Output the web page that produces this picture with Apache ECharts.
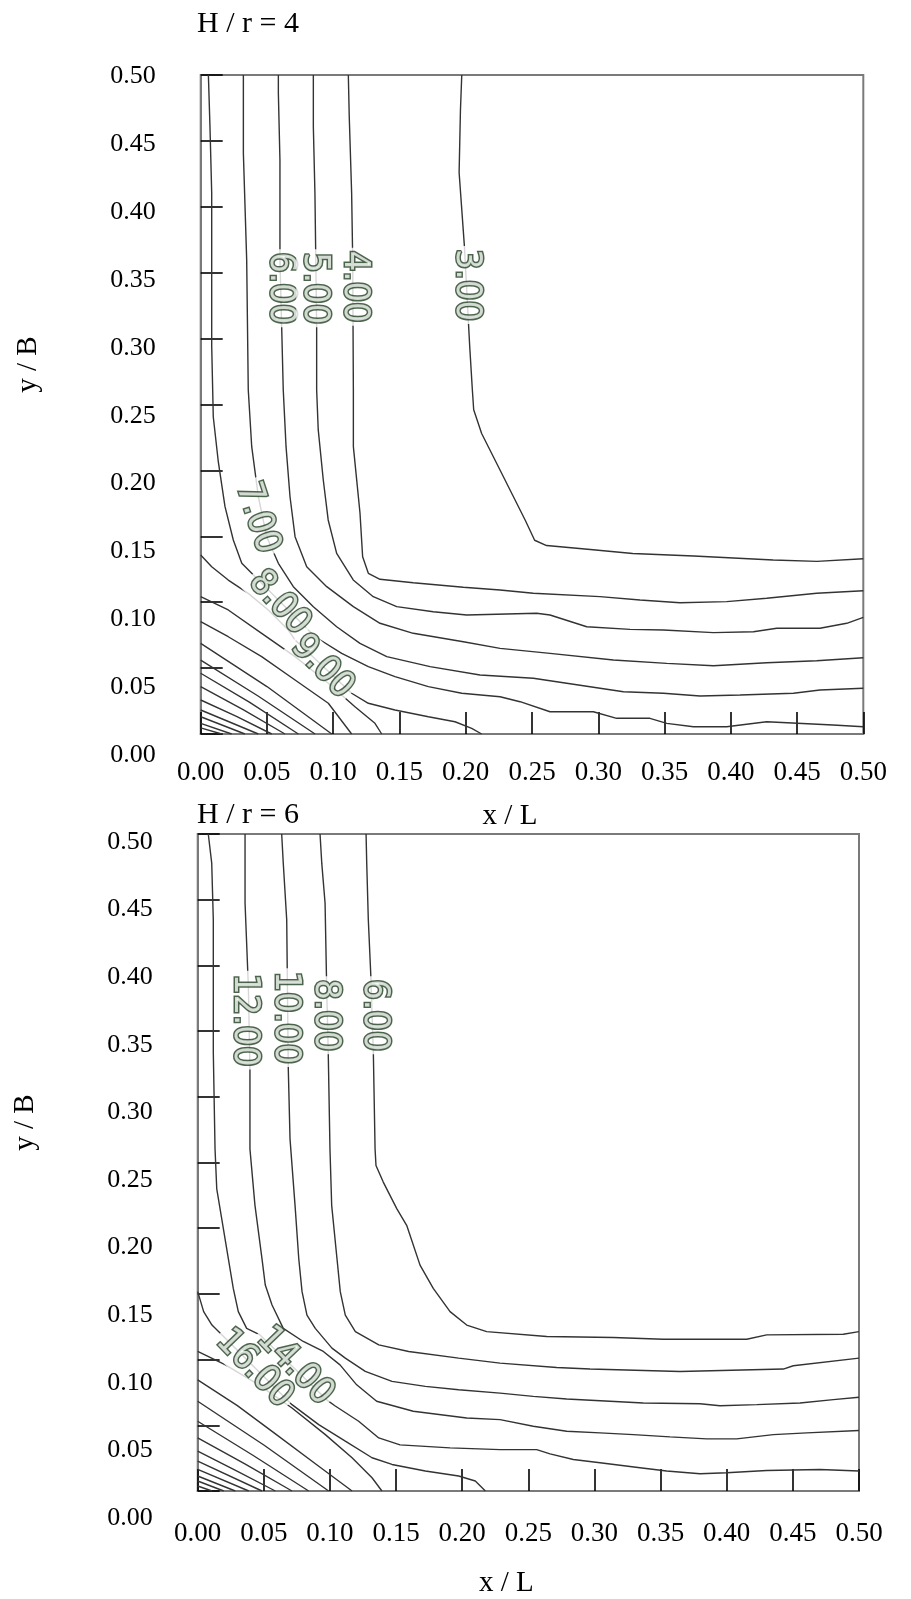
<!DOCTYPE html>
<html>
<head>
<meta charset="utf-8">
<script src="https://cdn.jsdelivr.net/npm/echarts@6/dist/echarts.min.js"></script>
<style>
html,body{margin:0;padding:0;background:#fff;}
#chart{width:911px;height:1599px;}
</style>
</head>
<body>
<div id="chart"></div>
<script>
// ---------- tick labels ----------
const xTickLabels = ['0.00','0.05','0.10','0.15','0.20','0.25','0.30','0.35','0.40','0.45','0.50'];
const yTickLabels = ['0.00','0.05','0.10','0.15','0.20','0.25','0.30','0.35','0.40','0.45','0.50'];

// ---------- H/r = 4 contour lines : [x/L, y/B] ----------
const h4_c3 = [[0.197,0.500],[0.196,0.473],[0.195,0.426],[0.199,0.370],[0.203,0.294],[0.205,0.261],[0.206,0.246],[0.212,0.228],[0.227,0.198],[0.236,0.180],[0.245,0.162],[0.252,0.147],[0.261,0.143],[0.294,0.140],[0.326,0.137],[0.372,0.135],[0.432,0.132],[0.465,0.131],[0.500,0.133]];
const h4_c4 = [[0.1114,0.5],[0.1121,0.4684],[0.1139,0.4105],[0.1147,0.3596],[0.1152,0.2610],[0.1152,0.2180],[0.1202,0.1677],[0.1222,0.1345],[0.1265,0.1219],[0.1353,0.1174],[0.1604,0.1148],[0.1982,0.1113],[0.2259,0.1093],[0.2510,0.1068],[0.3013,0.1042],[0.3315,0.1017],[0.3617,0.0996],[0.3969,0.1004],[0.4271,0.1030],[0.4648,0.1068],[0.5,0.1087]];
const h4_c5 = [[0.085,0.5],[0.085,0.4608],[0.0862,0.4105],[0.0875,0.3090],[0.0875,0.2610],[0.0887,0.2307],[0.0925,0.1927],[0.0962,0.1624],[0.1026,0.1371],[0.1151,0.1169],[0.1302,0.1042],[0.1479,0.0966],[0.1755,0.0928],[0.2007,0.0903],[0.2535,0.0916],[0.2636,0.0903],[0.2913,0.0814],[0.3240,0.0794],[0.3492,0.0789],[0.3869,0.0769],[0.4171,0.0776],[0.4347,0.0802],[0.4673,0.0802],[0.4875,0.0840],[0.5,0.0885]];
const h4_c6 = [[0.0586,0.5],[0.0586,0.4863],[0.0598,0.4355],[0.0598,0.3596],[0.0611,0.3090],[0.0623,0.2610],[0.0644,0.2180],[0.0674,0.1800],[0.0712,0.1497],[0.0800,0.1269],[0.0951,0.1118],[0.1152,0.0966],[0.1353,0.0840],[0.1604,0.0764],[0.1982,0.0700],[0.2259,0.0650],[0.2636,0.0612],[0.3114,0.0561],[0.3517,0.0536],[0.3869,0.0518],[0.4271,0.0541],[0.4648,0.0556],[0.5,0.0579]];
const h4_c7 = [[0.0322,0.5],[0.0322,0.4406],[0.0347,0.3596],[0.0359,0.2610],[0.0385,0.2180],[0.0435,0.1800],[0.0498,0.1497],[0.0586,0.1295],[0.0699,0.1118],[0.0850,0.0966],[0.1026,0.0814],[0.1202,0.0688],[0.1404,0.0587],[0.1731,0.0511],[0.2108,0.0448],[0.2510,0.0423],[0.2762,0.0385],[0.3190,0.0321],[0.3492,0.0309],[0.3768,0.0288],[0.4070,0.0296],[0.4473,0.0309],[0.4673,0.0334],[0.5,0.0347]];
const h4_c8 = [[0.0058,0.5],[0.0070,0.4608],[0.0083,0.4105],[0.0083,0.3596],[0.0083,0.2946],[0.0095,0.2405],[0.0133,0.2064],[0.0183,0.1727],[0.0246,0.1472],[0.0310,0.1295],[0.0385,0.1219],[0.0812,0.0789],[0.0863,0.0738],[0.1064,0.0612],[0.1265,0.0511],[0.1466,0.0435],[0.1718,0.0359],[0.1970,0.0309],[0.2259,0.0283],[0.2410,0.0245],[0.2636,0.0169],[0.2963,0.0169],[0.3139,0.0119],[0.3390,0.0119],[0.3517,0.0081],[0.3718,0.0055],[0.3969,0.0055],[0.4271,0.0093],[0.4771,0.0068],[0.5,0.0055]];
const h4_c9 = [[0,0.1358],[0.0083,0.1269],[0.0208,0.1168],[0.0359,0.1067],[0.0510,0.0941],[0.0661,0.0789],[0.0712,0.0713],[0.1139,0.0309],[0.1265,0.0233],[0.1466,0.0182],[0.1718,0.0131],[0.1919,0.0093],[0.2045,0.0043],[0.2120,0]];
const h4_c10 = [[0,0.1042],[0.0208,0.0941],[0.0460,0.0764],[0.0712,0.0587],[0.0963,0.0385],[0.1164,0.0207],[0.1315,0.0081],[0.1366,0]];
const h4_c11 = [[0,0.0852],[0.0208,0.0738],[0.0460,0.0587],[0.0712,0.0410],[0.0963,0.0233],[0.1139,0]];
const h4_c12 = [[0,0.0688],[0.050,0.036],[0.0989,0]];
const h4_c13 = [[0,0.0561],[0.043,0.029],[0.0863,0]];
const h4_c14 = [[0,0.0461],[0.037,0.024],[0.0737,0]];
const h4_c15 = [[0,0.0359],[0.032,0.0185],[0.0636,0]];
const h4_c16 = [[0,0.0258],[0.027,0.0133],[0.0536,0]];
const h4_c17 = [[0,0.0182],[0.0435,0]];
const h4_c18 = [[0,0.0131],[0.0334,0]];
const h4_c19 = [[0,0.0081],[0.0234,0]];
const h4_c20 = [[0,0.0046],[0.0158,0]];
// contour labels: [x, y, text, angle]
const h4_labels = [[0.0598,0.3382,'6.00',-90],[0.0857,0.3382,'5.00',-90],[0.1158,0.3394,'4.00',-90],[0.2001,0.3407,'3.00',-90],[0.0425,0.1639,'7.00',-72],[0.0591,0.0994,'8.00',-48],[0.0915,0.0508,'9.00',-46]];

// ---------- H/r = 6 contour lines ----------
const h6_c6 = [[0.1273,0.5],[0.1278,0.4778],[0.1290,0.4348],[0.1308,0.3944],[0.1328,0.3337],[0.1341,0.2604],[0.1348,0.2477],[0.1403,0.2351],[0.1505,0.2149],[0.1580,0.2022],[0.1681,0.1719],[0.1781,0.1542],[0.1908,0.1365],[0.2034,0.1263],[0.2185,0.1213],[0.2639,0.1176],[0.3142,0.1168],[0.3520,0.1155],[0.4151,0.1155],[0.4302,0.1188],[0.4881,0.1193],[0.5,0.1213]];
const h6_c8 = [[0.0925,0.5],[0.0938,0.4778],[0.0963,0.4475],[0.0975,0.3842],[0.0987,0.3337],[0.1000,0.2604],[0.1013,0.2174],[0.1053,0.1769],[0.1078,0.1517],[0.1116,0.1339],[0.1192,0.1213],[0.1369,0.1112],[0.1595,0.1062],[0.1973,0.1011],[0.2286,0.0973],[0.2714,0.0940],[0.2966,0.0928],[0.3647,0.0910],[0.4428,0.0928],[0.4503,0.0953],[0.5,0.1011]];
const h6_c10 = [[0.0635,0.5],[0.0647,0.4778],[0.0673,0.4348],[0.0685,0.3210],[0.0698,0.2680],[0.0736,0.2174],[0.0764,0.1769],[0.0789,0.1517],[0.0826,0.1339],[0.0889,0.1238],[0.1015,0.1087],[0.1116,0.1011],[0.1267,0.0910],[0.1469,0.0834],[0.1721,0.0796],[0.1973,0.0771],[0.2286,0.0745],[0.2537,0.0720],[0.2790,0.0700],[0.3117,0.0683],[0.3369,0.0670],[0.3798,0.0664],[0.3949,0.0649],[0.4227,0.0657],[0.4554,0.0670],[0.4806,0.0695],[0.5,0.0713]];
const h6_c12 = [[0.0358,0.5],[0.0358,0.4475],[0.0383,0.3842],[0.0395,0.3210],[0.0395,0.2604],[0.0433,0.2174],[0.0486,0.1769],[0.0511,0.1567],[0.0562,0.1415],[0.0647,0.1238],[0.0798,0.1138],[0.0950,0.1062],[0.1076,0.0960],[0.1202,0.0808],[0.1353,0.0683],[0.1630,0.0607],[0.2034,0.0556],[0.2286,0.0543],[0.2537,0.0493],[0.2790,0.0455],[0.3042,0.0442],[0.3294,0.0429],[0.3571,0.0412],[0.3849,0.0397],[0.4075,0.0397],[0.4352,0.0429],[0.4605,0.0442],[0.5,0.0460]];
const h6_c14 = [[0.0080,0.5],[0.0106,0.4778],[0.0118,0.4348],[0.0118,0.3337],[0.0131,0.2604],[0.0144,0.2300],[0.0194,0.1997],[0.0269,0.1542],[0.0307,0.1365],[0.0370,0.1238],[0.0471,0.1188],[0.0978,0.0692],[0.1040,0.0647],[0.1217,0.0531],[0.1369,0.0404],[0.1530,0.0351],[0.1908,0.0328],[0.2286,0.0315],[0.2563,0.0315],[0.2664,0.0283],[0.2840,0.0240],[0.3042,0.0215],[0.3344,0.0177],[0.3546,0.0152],[0.3798,0.0131],[0.4000,0.0139],[0.4302,0.0156],[0.4705,0.0164],[0.5,0.0152]];
const h6_c16 = [[0,0.1517],[0.0045,0.1365],[0.0108,0.1263],[0.0184,0.1188],[0.0713,0.0657],[0.0915,0.0505],[0.1116,0.0379],[0.1318,0.0253],[0.1469,0.0202],[0.1721,0.0152],[0.1973,0.0114],[0.2099,0.0076],[0.2175,0]];
const h6_c18 = [[0,0.1062],[0.0210,0.0960],[0.0462,0.0808],[0.0713,0.0632],[0.0965,0.0429],[0.1167,0.0253],[0.1318,0.0101],[0.1393,0]];
const h6_c20 = [[0,0.0846],[0.030,0.0650],[0.058,0.0440],[0.090,0.0200],[0.1167,0]];
const h6_c22 = [[0,0.0683],[0.050,0.0350],[0.0990,0]];
const h6_c24 = [[0,0.0531],[0.042,0.0270],[0.0839,0]];
const h6_c26 = [[0,0.0404],[0.036,0.0205],[0.0713,0]];
const h6_c28 = [[0,0.0303],[0.029,0.0155],[0.0587,0]];
const h6_c30 = [[0,0.0228],[0.0486,0]];
const h6_c32 = [[0,0.0164],[0.0386,0]];
const h6_c34 = [[0,0.0114],[0.0284,0]];
const h6_c36 = [[0,0.0076],[0.0197,0]];
const h6_c38 = [[0,0.0038],[0.0108,0]];
const h6_labels = [[0.0352,0.3583,'12.00',-90],[0.0666,0.3602,'10.00',-90],[0.0963,0.3621,'8.00',-90],[0.1334,0.3621,'6.00',-90],[0.0735,0.0948,'14.00',-46],[0.0427,0.0929,'16.00',-46]];

const lines4 = [h4_c3,h4_c4,h4_c5,h4_c6,h4_c7,h4_c8,h4_c9,h4_c10,h4_c11,h4_c12,h4_c13,h4_c14,h4_c15,h4_c16,h4_c17,h4_c18,h4_c19,h4_c20];
const lines6 = [h6_c6,h6_c8,h6_c10,h6_c12,h6_c14,h6_c16,h6_c18,h6_c20,h6_c22,h6_c24,h6_c26,h6_c28,h6_c30,h6_c32,h6_c34,h6_c36,h6_c38];

// ---------- build ----------
const SERIF = '"Liberation Serif","Times New Roman",serif';
const NARROW = '"Liberation Sans Narrow","DejaVu Sans Condensed","Arial Narrow",sans-serif';

function xAxisCfg(gi, labelMargin, nameGap){
  return {
    type:'value', gridIndex:gi, min:0, max:0.5, interval:0.05,
    axisLine:{show:true, lineStyle:{color:'#7a7a7a', width:2}},
    axisTick:{show:true, inside:true, length:22, lineStyle:{color:'#000', width:1.6}},
    axisLabel:{margin:labelMargin, color:'#000', fontFamily:SERIF, fontSize:27,
      formatter:(v)=>xTickLabels[Math.round(v/0.05)]},
    splitLine:{show:false},
    name:'x / L', nameLocation:'middle', nameGap:nameGap,
    nameTextStyle:{color:'#000', fontFamily:SERIF, fontSize:29, padding:[0,44,0,0]}
  };
}
function yAxisCfg(gi){
  return {
    type:'value', gridIndex:gi, min:0, max:0.5, interval:0.05,
    axisLine:{show:true, lineStyle:{color:'#7a7a7a', width:2}},
    axisTick:{show:true, inside:true, length:22, lineStyle:{color:'#000', width:1.6}},
    axisLabel:{show:false},
    splitLine:{show:false},
    name:'y / B', nameLocation:'middle', nameRotate:90, nameGap:158,
    nameTextStyle:{color:'#000', fontFamily:SERIF, fontSize:29, padding:[0,0,0,80]}
  };
}
// label-only y axis (tick labels sit on their own, slightly taller scale as in the scan)
function yLabelAxisCfg(gi){
  return {
    type:'value', gridIndex:gi, min:0, max:0.5, interval:0.05,
    axisLine:{show:false}, axisTick:{show:false}, splitLine:{show:false},
    axisLabel:{margin:45, color:'#000', fontFamily:SERIF, fontSize:26,
      formatter:(v)=>yTickLabels[Math.round(v/0.05)]}
  };
}
function xHiddenCfg(gi){
  return {type:'value', gridIndex:gi, min:0, max:0.5, show:false};
}

const series = [];
function addLines(list, gi){
  list.forEach(d=>{
    series.push({type:'line', xAxisIndex:gi, yAxisIndex:gi, data:d, showSymbol:false, symbol:'none',
      smooth:false, silent:true, z:2,
      lineStyle:{color:'#333', width:1.4}});
  });
}
const labelStyle = {show:true, position:'inside', fontFamily:NARROW, fontSize:36,
  color:'#f4f8f4', textBorderColor:'#1f3d1f', textBorderWidth:3,
  backgroundColor:'#ffffff', padding:[0,3]};
function addLabels(list, gi){
  series.push({type:'scatter', xAxisIndex:gi, yAxisIndex:gi, symbolSize:1, silent:true, z:10, zlevel:1,
    itemStyle:{color:'rgba(0,0,0,0)'},
    data:list.map(l=>({value:[l[0],l[1]], label:Object.assign({}, labelStyle, {formatter:l[2], rotate:l[3]})})),
    label:labelStyle
  });
}
addLines(lines4,0); addLines(lines6,1);
addLabels(h4_labels,0); addLabels(h6_labels,1);

const chart = echarts.init(document.getElementById('chart'), null, {renderer:'canvas'});
chart.setOption({
  animation:false,
  backgroundColor:'#fff',
  title:[
    {text:'H / r = 4', left:192, top:4, textStyle:{fontFamily:SERIF, fontSize:30, fontWeight:'normal', color:'#000'}},
    {text:'H / r = 6', left:192, top:795, textStyle:{fontFamily:SERIF, fontSize:30, fontWeight:'normal', color:'#000'}}
  ],
  grid:[
    {left:200.7, top:75, width:662.6, height:659, show:true, borderColor:'#7a7a7a', borderWidth:2},
    {left:197.7, top:834, width:661.3, height:659.3, show:true, borderColor:'#7a7a7a', borderWidth:2},
    {left:200.7, top:76.5, width:662.6, height:678.5, show:false},
    {left:197.7, top:842, width:661.3, height:676, show:false}
  ],
  xAxis:[xAxisCfg(0,25,68), xAxisCfg(1,29,78), xHiddenCfg(2), xHiddenCfg(3)],
  yAxis:[yAxisCfg(0), yAxisCfg(1), yLabelAxisCfg(2), yLabelAxisCfg(3)],
  series:series
});
</script>
</body>
</html>
